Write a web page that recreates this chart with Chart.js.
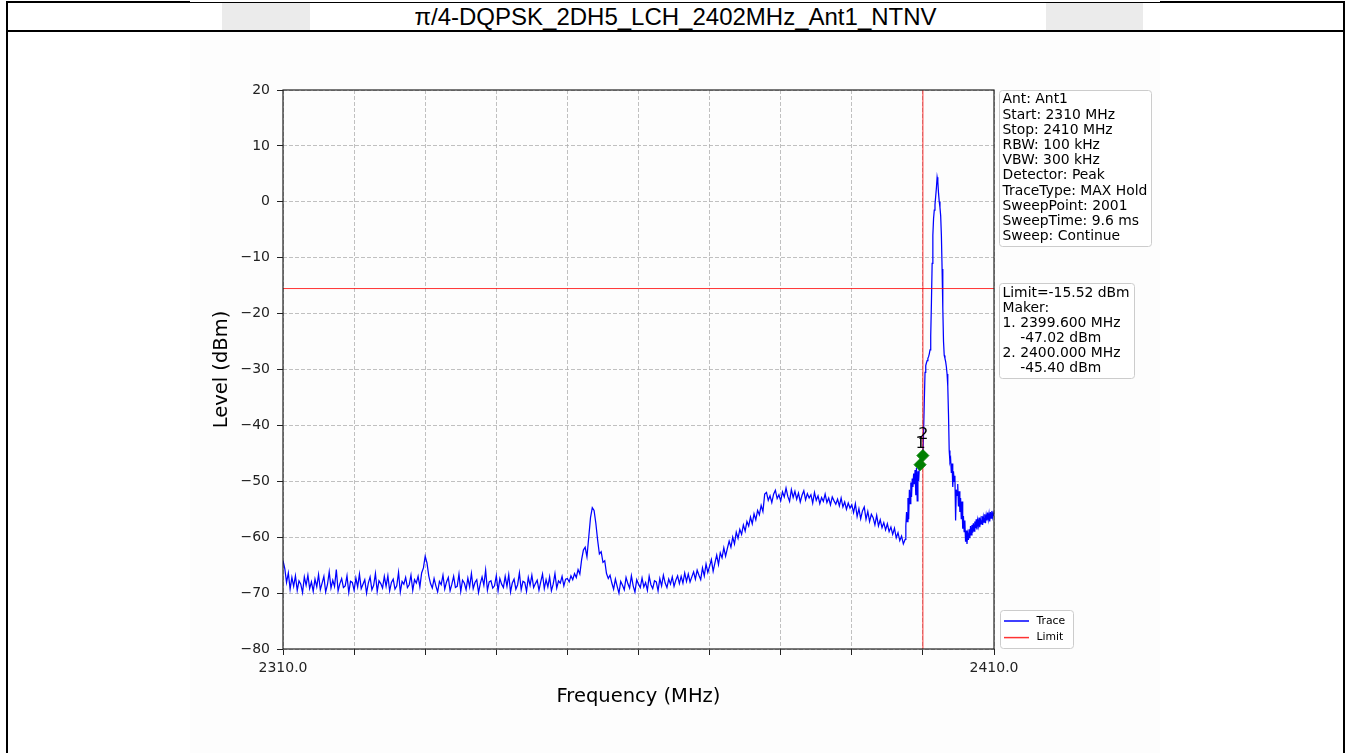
<!DOCTYPE html>
<html><head><meta charset="utf-8">
<script src="https://cdn.jsdelivr.net/npm/chart.js@4/dist/chart.umd.min.js"></script>
<style>
html,body{margin:0;padding:0;background:#fff;}
body{width:1346px;height:753px;position:relative;overflow:hidden;}
.abs{position:absolute;}
#plotbg{left:190px;top:32px;width:970px;height:721px;background:#fdfdfd;}
.grey{background:#ebebeb;top:3px;height:27px;}
#title{left:8px;width:1335px;top:3px;height:27px;line-height:28px;text-align:center;font-family:"Liberation Sans",Arial,sans-serif;font-size:24px;color:#000;white-space:nowrap;}
#c{left:0;top:0;}
</style></head><body>
<div class="abs" id="plotbg"></div>
<div class="abs grey" style="left:222px;width:88px"></div>
<div class="abs grey" style="left:1046px;width:97px"></div>
<div class="abs" style="left:6px;top:1px;width:184px;height:2px;background:#000"></div>
<div class="abs" style="left:190px;top:2px;width:970px;height:1px;background:#000"></div>
<div class="abs" style="left:1160px;top:1px;width:185px;height:2px;background:#000"></div>
<div class="abs" style="left:6px;top:30px;width:1339px;height:2px;background:#000"></div>
<div class="abs" style="left:6px;top:1px;width:2px;height:752px;background:#000"></div>
<div class="abs" style="left:1343px;top:1px;width:2px;height:752px;background:#000"></div>
<div class="abs" id="title">π/4-DQPSK_2DH5_LCH_2402MHz_Ant1_NTNV</div>
<canvas class="abs" id="c" width="1346" height="753"></canvas>
<script>
// ---- axis range / ticks ----
const xStart = 2310, xStop = 2410, xStep = 10;
const yMin = -80, yMax = 20, yStep = 10;
const xTickLabels = ['2310.0', '2410.0'];

// ---- trace: coarse grid (0.25 MHz) 2310.00 .. 2397.50 ----
const coarseStart = 2310, coarseStep = 0.25;
const traceSeg1 = [ // 2310.00 - 2329.75
 -64.2,-65.6,-68.1,-66.4,-69.3,-67.2,-68.8,-66.9,-69.5,-67.8,
 -68.4,-69.9,-67.1,-68.6,-66.8,-69.2,-68.0,-69.7,-67.5,-68.9,
 -66.7,-69.4,-68.2,-67.0,-69.8,-68.5,-66.2,-69.1,-67.7,-68.8,
 -65.8,-69.6,-68.3,-67.4,-69.0,-68.7,-66.9,-69.9,-67.9,-68.1,
 -69.5,-67.3,-68.9,-66.6,-69.2,-68.4,-67.6,-70.0,-68.2,-67.1,
 -69.4,-68.6,-66.5,-69.7,-67.8,-68.3,-69.1,-67.0,-68.8,-66.9,
 -69.6,-68.1,-67.5,-69.3,-68.7,-66.3,-69.8,-67.9,-68.4,-67.2,
 -69.0,-68.5,-66.8,-69.5,-67.6,-68.2,-67.0,-68.9,-66.4,-65.5];
const traceSeg2 = [ // 2330.00 - 2351.75
 -63.4,-64.6,-66.9,-68.3,-69.1,-67.4,-68.7,-69.8,-67.9,-68.5,
 -66.8,-69.3,-68.0,-67.2,-69.6,-68.4,-67.0,-69.0,-68.8,-66.6,
 -69.7,-67.7,-68.2,-69.4,-67.3,-68.9,-66.5,-69.2,-68.1,-67.6,
 -69.9,-68.3,-67.1,-68.6,-65.9,-69.5,-68.0,-67.8,-69.1,-68.7,
 -66.9,-69.6,-67.4,-68.4,-69.0,-67.0,-68.8,-66.7,-69.8,-68.2,
 -67.5,-69.3,-68.5,-66.4,-69.4,-67.9,-68.1,-69.7,-67.2,-68.6,
 -66.8,-69.0,-68.3,-67.7,-69.5,-68.0,-66.6,-69.2,-67.6,-68.9,
 -67.1,-69.6,-68.4,-66.5,-69.1,-67.8,-68.2,-67.0,-68.7,-67.5,
 -67.4,-68.0,-66.9,-67.6,-66.5,-67.2,-65.8,-66.6];
const traceSeg3 = [ // 2352.00 - 2356.25
 -64.0,-62.3,-61.8,-63.5,-60.0,-56.5,-54.7,-55.2,-57.5,-60.5,
 -63.0,-62.6,-64.5,-64.2,-66.5,-67.4,-66.8,-68.2];
const traceSeg4 = [ // 2356.50 - 2365.75
 -69.3,-67.5,-68.8,-70.0,-67.9,-68.6,-69.4,-67.2,-68.3,-69.1,
 -66.9,-68.7,-69.8,-67.6,-68.4,-69.0,-67.3,-68.9,-68.1,-69.5,
 -67.0,-68.5,-69.2,-67.8,-68.0,-69.6,-67.4,-68.7,-66.8,-68.2,
 -69.0,-67.5,-68.4,-67.1,-68.8,-67.7,-66.9,-68.3];
const traceSeg5 = [ // 2366.00 - 2377.75
 -67.0,-68.2,-66.4,-67.9,-66.6,-68.0,-67.1,-66.2,-67.5,-65.9,-66.8,-67.6,
 -65.5,-66.9,-64.8,-66.3,-65.2,-64.0,-66.1,-64.6,-63.2,-64.9,-62.8,-63.7,
 -61.9,-63.4,-62.0,-60.7,-61.8,-60.0,-61.2,-59.1,-60.2,-58.6,-59.5,-57.8,
 -58.9,-57.2,-58.0,-56.4,-57.6,-55.8,-56.9,-55.2,-56.0,-54.3,-55.4,-52.3];
const traceSeg6 = [ // 2378.00 - 2389.75
 -52.0,-53.4,-52.6,-53.8,-52.3,-51.6,-53.1,-52.4,-53.5,-51.9,-52.8,-51.2,
 -52.7,-53.6,-51.5,-52.9,-51.8,-53.2,-52.1,-53.7,-52.5,-51.7,-53.3,-52.2,
 -53.0,-52.4,-53.9,-52.0,-53.4,-52.6,-54.0,-52.9,-53.6,-52.3,-53.8,-53.0,
 -54.2,-52.8,-53.5,-54.1,-53.2,-54.4,-53.0,-54.6,-53.7,-55.0,-53.9,-54.8];
const traceSeg7 = [ // 2390.00 - 2397.50
 -54.2,-55.6,-54.0,-56.3,-54.9,-56.7,-55.3,-54.6,-56.8,-55.4,-57.2,-55.9,
 -56.5,-57.8,-56.1,-58.0,-56.9,-58.3,-57.4,-58.7,-57.6,-59.0,-58.2,-59.5,
 -58.4,-60.1,-59.2,-60.6,-59.8,-61.2,-60.4];

// ---- trace: fine grid (0.1 MHz) 2397.6 .. 2410.0 ----
const fineStart = 2397.6, fineStep = 0.1;
const traceFine = [
 -58.0,-55.5,-57.2,-53.0,-56.8,-51.5,-54.0,-50.2,-52.8,-49.5,
 -51.0,-48.6,-50.5,-48.0,-52.5,-47.6,-53.5,-48.2,-50.0,-47.5,
 -47.0,-46.2,-46.8,-45.9,-45.4,-41.0,-35.5,-30.5,-29.3,-28.8,
 -28.4,-28.0,-27.7,-27.2,-26.5,-24.0,-18.0,-11.0,-6.0,-3.0,
 -1.5,-0.5,1.0,2.5,4.4,3.6,1.5,0.0,-1.0,-2.5,
 -6.0,-12.0,-19.0,-25.0,-27.5,-28.0,-28.6,-29.5,-30.8,-33.0,
 -38.0,-44.5,-46.5,-46.0,-48.5,-46.8,-51.0,-48.2,-50.0,-49.0,
 -57.0,-51.5,-52.5,-50.5,-54.5,-51.8,-55.5,-53.0,-56.8,-53.6,
 -58.5,-56.2,-59.0,-57.0,-60.8,-58.8,-61.2,-59.5,-60.5,-58.6,
 -60.2,-58.0,-59.6,-57.8,-59.2,-57.5,-58.9,-57.2,-58.4,-56.8,
 -58.6,-57.0,-57.9,-56.5,-58.2,-56.9,-57.6,-56.2,-57.8,-56.4,
 -57.3,-55.9,-57.5,-56.1,-57.0,-55.6,-56.8,-55.8,-57.2,-55.5,
 -56.6,-55.3,-56.4,-55.7,-56.2];

// ---- limit, band edge, markers ----
const limitLevel = -15.52;
const edgeFreq = 2400;
const markerNames = ['1', '2'];
const markerFreqs = [2399.6, 2400.0];
const markerLevels = [-47.02, -45.40];

// ---- annotation text ----
const infoLines = ['Ant: Ant1','Start: 2310 MHz','Stop: 2410 MHz','RBW: 100 kHz','VBW: 300 kHz',
  'Detector: Peak','TraceType: MAX Hold','SweepPoint: 2001','SweepTime: 9.6 ms','Sweep: Continue'];
const limitLines = ['Limit=-15.52 dBm','Maker:','1. 2399.600 MHz','    -47.02 dBm','2. 2400.000 MHz','    -45.40 dBm'];
const legendLabels = ['Trace', 'Limit'];

// ---- build points ----
const coarse = [].concat(traceSeg1, traceSeg2, traceSeg3, traceSeg4, traceSeg5, traceSeg6, traceSeg7);
const tracePts = coarse.map((v, i) => ({x: +(coarseStart + i * coarseStep).toFixed(2), y: v}))
  .concat(traceFine.map((v, i) => ({x: +(fineStart + i * fineStep).toFixed(2), y: v})));
const markerPts = markerFreqs.map((f, i) => ({x: f, y: markerLevels[i]}));

const FONT = '"DejaVu Sans", sans-serif';
const RED = 'rgba(255,0,0,0.8)';

function roundRect(ctx, x, y, w, h, r) {
  ctx.beginPath();
  ctx.moveTo(x + r, y); ctx.lineTo(x + w - r, y); ctx.quadraticCurveTo(x + w, y, x + w, y + r);
  ctx.lineTo(x + w, y + h - r); ctx.quadraticCurveTo(x + w, y + h, x + w - r, y + h);
  ctx.lineTo(x + r, y + h); ctx.quadraticCurveTo(x, y + h, x, y + h - r);
  ctx.lineTo(x, y + r); ctx.quadraticCurveTo(x, y, x + r, y); ctx.closePath();
}
function textBox(ctx, x, y, w, h, lines, firstBase, lineH) {
  roundRect(ctx, x + 0.5, y + 0.5, w, h, 3);
  ctx.fillStyle = 'rgba(255,255,255,0.85)'; ctx.fill();
  ctx.strokeStyle = '#cccccc'; ctx.lineWidth = 1; ctx.stroke();
  ctx.fillStyle = '#000'; ctx.font = '13.9px ' + FONT;
  ctx.textAlign = 'left'; ctx.textBaseline = 'alphabetic';
  lines.forEach((t, i) => ctx.fillText(t, x + 3.5, y + firstBase + i * lineH));
}

const deco = {
  id: 'deco',
  afterDraw(chart) {
    const {ctx, chartArea: a, scales: {x, y}} = chart;
    ctx.save();
    ctx.strokeStyle = '#222'; ctx.lineWidth = 1.2;
    ctx.strokeRect(a.left, a.top, a.right - a.left, a.bottom - a.top);
    ctx.fillStyle = '#000'; ctx.font = '19.5px ' + FONT;
    ctx.textAlign = 'center'; ctx.textBaseline = 'middle';
    ctx.fillText('Frequency (MHz)', (a.left + a.right) / 2, 697);
    ctx.save(); ctx.translate(222, (a.top + a.bottom) / 2); ctx.rotate(-Math.PI / 2);
    ctx.fillText('Level (dBm)', 0, 0); ctx.restore();
    // marker labels
    ctx.font = '16px ' + FONT; ctx.textBaseline = 'alphabetic';
    markerFreqs.forEach((f, i) => {
      ctx.fillText(markerNames[i], x.getPixelForValue(f) + 0.5, y.getPixelForValue(markerLevels[i]) - 17);
    });
    // info boxes
    textBox(ctx, a.right + 5, a.top, 152, 156, infoLines, 13.3, 15.2);
    textBox(ctx, a.right + 5, a.top + 193, 135, 95, limitLines, 14.3, 14.9);
    // legend
    const lx = a.right + 6, ly = a.bottom - 39;
    roundRect(ctx, lx + 0.5, ly + 0.5, 73, 38, 3);
    ctx.fillStyle = 'rgba(255,255,255,0.85)'; ctx.fill();
    ctx.strokeStyle = '#cccccc'; ctx.lineWidth = 1; ctx.stroke();
    const cols = [chart.data.datasets[0].borderColor, chart.data.datasets[1].borderColor];
    ctx.font = '10.8px ' + FONT; ctx.textBaseline = 'middle'; ctx.textAlign = 'left';
    legendLabels.forEach((t, i) => {
      const yy = ly + 11 + i * 16.6;
      ctx.strokeStyle = cols[i]; ctx.lineWidth = 1.5;
      ctx.beginPath(); ctx.moveTo(lx + 4, yy); ctx.lineTo(lx + 29, yy); ctx.stroke();
      ctx.fillStyle = '#000'; ctx.fillText(t, lx + 36.5, yy);
    });
    ctx.restore();
  }
};

new Chart(document.getElementById('c'), {
  type: 'line',
  data: {
    datasets: [
      {label: 'Trace', data: tracePts, borderColor: '#0000ff', borderWidth: 1.25, pointRadius: 0, tension: 0, order: 3},
      {label: 'Limit', data: [{x: xStart, y: limitLevel}, {x: xStop, y: limitLevel}], borderColor: RED, borderWidth: 1, pointRadius: 0, order: 2},
      {label: 'Edge', data: [{x: edgeFreq, y: yMin}, {x: edgeFreq, y: yMax}], borderColor: RED, borderWidth: 1, pointRadius: 0, order: 2},
      {label: 'Markers', data: markerPts, showLine: false, pointStyle: 'rectRot', pointRadius: 6, pointBackgroundColor: '#008000', pointBorderColor: '#008000', order: 1}
    ]
  },
  options: {
    responsive: false, animation: false, events: [],
    layout: {padding: {left: 213, right: 352, top: 90, bottom: 44}},
    plugins: {legend: {display: false}, tooltip: {enabled: false}},
    scales: {
      x: {
        type: 'linear', min: xStart, max: xStop,
        afterFit: s => { s.height = 60; },
        ticks: {stepSize: xStep, autoSkip: false, maxRotation: 0, padding: 5, color: '#222', font: {family: FONT, size: 14},
          callback: v => v === xStart ? xTickLabels[0] : (v === xStop ? xTickLabels[1] : '')},
        grid: {color: '#b0b0b0', lineWidth: 0.8, tickLength: 6, tickColor: '#222', tickWidth: 1, tickBorderDash: []},
        border: {display: false, dash: [4, 2]}
      },
      y: {
        min: yMin, max: yMax,
        afterFit: s => { s.width = 70; },
        ticks: {stepSize: yStep, padding: 7, color: '#222', font: {family: FONT, size: 14},
          callback: v => v < 0 ? '\u2212' + Math.abs(v) : String(v)},
        grid: {color: '#b0b0b0', lineWidth: 0.8, tickLength: 6, tickColor: '#222', tickWidth: 1, tickBorderDash: []},
        border: {display: false, dash: [4, 2]}
      }
    }
  },
  plugins: [deco]
});
</script>
</body></html>
